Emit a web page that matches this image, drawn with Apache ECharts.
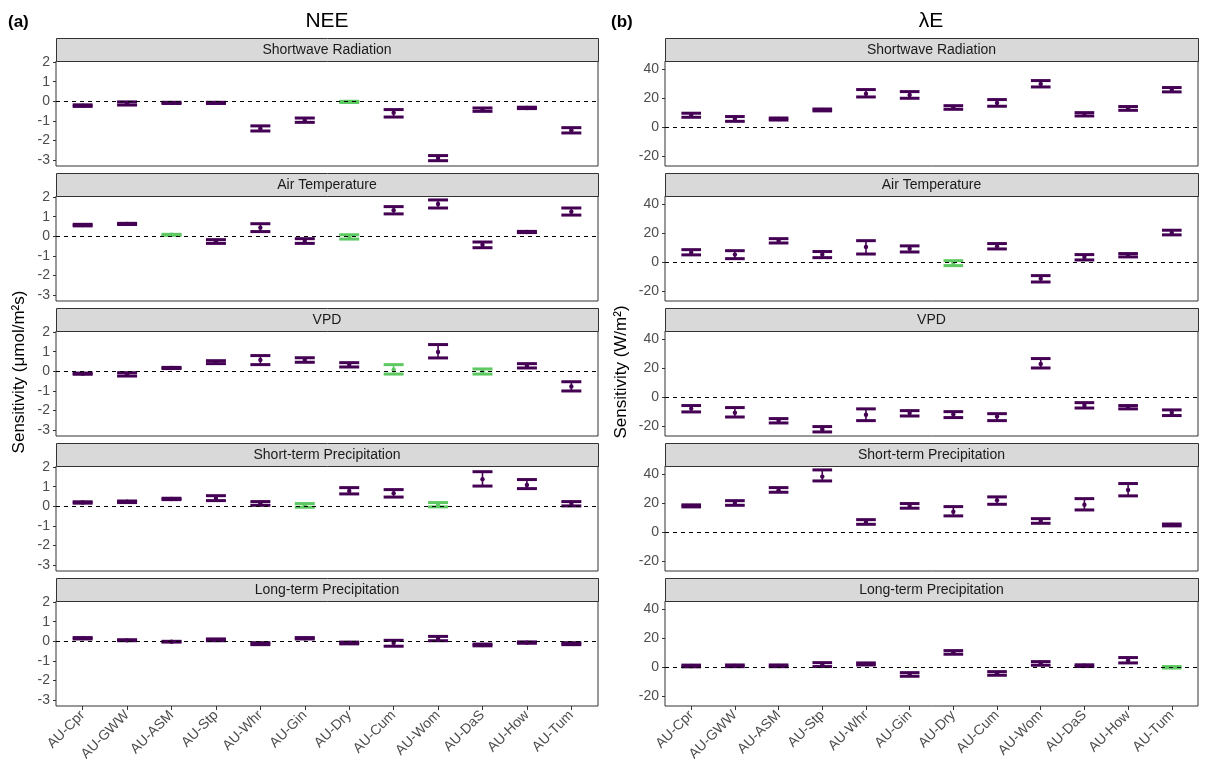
<!DOCTYPE html>
<html><head><meta charset="utf-8">
<script src="https://cdn.jsdelivr.net/npm/echarts@6/dist/echarts.min.js"></script>
<style>html,body{margin:0;padding:0;background:#fff}#c{width:1209px;height:781px}</style>
</head><body><div id="c"></div>
<script>
const sites = ['AU-Cpr','AU-GWW','AU-ASM','AU-Stp','AU-Whr','AU-Gin','AU-Dry','AU-Cum','AU-Wom','AU-DaS','AU-How','AU-Tum'];
const drivers = ['Shortwave Radiation','Air Temperature','VPD','Short-term Precipitation','Long-term Precipitation'];
const neeTicks = [-3,-2,-1,0,1,2];
const leTicks = [-20,0,20,40];

// [mean, lower, upper]
const neeSW = [[-0.22,-0.26,-0.18],[-0.11,-0.19,-0.03],[-0.08,-0.11,-0.05],[-0.08,-0.11,-0.05],[-1.38,-1.51,-1.25],[-0.96,-1.07,-0.85],[-0.03,-0.06,0.00],[-0.58,-0.80,-0.42],[-2.88,-3.02,-2.76],[-0.42,-0.51,-0.34],[-0.34,-0.37,-0.30],[-1.47,-1.61,-1.34]];
const neeTa = [[0.57,0.53,0.61],[0.63,0.60,0.66],[0.08,0.05,0.10],[-0.26,-0.36,-0.17],[0.44,0.24,0.64],[-0.24,-0.36,-0.12],[-0.03,-0.14,0.08],[1.33,1.14,1.51],[1.64,1.44,1.85],[-0.43,-0.58,-0.29],[0.22,0.19,0.25],[1.25,1.08,1.44]];
const neeVpd = [[-0.12,-0.15,-0.09],[-0.15,-0.24,-0.07],[0.17,0.14,0.20],[0.46,0.39,0.54],[0.58,0.34,0.80],[0.58,0.46,0.69],[0.33,0.22,0.44],[0.08,-0.14,0.34],[0.98,0.68,1.36],[-0.01,-0.14,0.12],[0.27,0.17,0.39],[-0.77,-1.00,-0.53]];
const neeStp = [[0.19,0.16,0.23],[0.23,0.19,0.27],[0.37,0.34,0.41],[0.42,0.29,0.54],[0.14,0.05,0.24],[0.05,-0.05,0.14],[0.78,0.63,0.95],[0.67,0.47,0.85],[0.07,-0.03,0.19],[1.38,1.03,1.76],[1.08,0.90,1.36],[0.12,0.02,0.24]];
const neeLtp = [[0.16,0.12,0.19],[0.05,0.03,0.08],[-0.02,-0.04,0.00],[0.07,0.03,0.12],[-0.12,-0.17,-0.07],[0.15,0.12,0.19],[-0.08,-0.13,-0.04],[-0.08,-0.25,0.05],[0.14,0.03,0.25],[-0.19,-0.23,-0.14],[-0.07,-0.10,-0.03],[-0.12,-0.17,-0.07]];

const leSW = [[8.3,6.9,9.7],[5.8,4.1,7.4],[5.7,5.0,6.4],[12.0,11.3,12.6],[23.1,20.9,26.0],[22.3,20.0,24.6],[13.6,12.4,14.9],[16.8,14.5,19.1],[29.9,27.8,32.2],[9.0,7.8,10.1],[13.0,11.7,14.3],[25.9,24.4,27.4]];
const leTa = [[6.7,5.1,8.7],[5.3,2.5,8.0],[14.9,13.3,16.3],[5.3,3.2,7.4],[10.6,5.7,14.9],[9.4,7.1,11.3],[-0.4,-2.3,1.1],[10.8,9.2,12.9],[-11.3,-13.6,-9.2],[3.7,1.6,5.3],[4.9,3.7,6.0],[20.3,18.9,22.1]];
const leVpd = [[-7.8,-10.1,-5.7],[-10.6,-13.6,-7.1],[-16.1,-17.7,-14.7],[-22.0,-23.9,-20.2],[-12.0,-16.1,-8.0],[-10.8,-12.9,-9.2],[-11.7,-14.0,-9.9],[-13.3,-16.1,-11.3],[23.0,20.2,26.7],[-5.5,-7.4,-3.7],[-6.8,-8.0,-5.7],[-10.5,-12.6,-8.7]];
const leStp = [[18.2,17.5,18.9],[20.2,18.6,21.8],[29.0,27.6,30.8],[38.4,35.4,43.0],[7.1,5.5,8.7],[18.2,16.6,19.8],[14.2,11.3,17.7],[22.1,19.3,24.4],[7.8,6.2,9.4],[19.0,15.4,23.2],[29.1,25.1,33.6],[5.1,4.4,5.7]];
const leLtp = [[0.9,0.3,1.5],[1.0,0.4,1.6],[1.0,0.4,1.6],[1.8,0.5,3.2],[2.3,1.6,3.0],[-4.8,-6.2,-3.7],[10.3,9.0,11.5],[-4.1,-5.5,-3.0],[2.6,1.4,3.9],[1.1,0.5,1.7],[4.8,3.0,6.7],[0.0,-0.5,0.5]];

// indices of sites drawn in green (non-significant) per driver panel
const neeGreen = [[6],[2,6],[7,9],[5,8],[]];
const leGreen = [[],[6],[],[],[11]];

const neePanels = [neeSW, neeTa, neeVpd, neeStp, neeLtp];
const lePanels = [leSW, leTa, leVpd, leStp, leLtp];

const PURPLE = '#440154', GREEN = '#5ec962';
const FONT = 'Liberation Sans, Arial, sans-serif';
const cols = [
  {left:56, width:542, ymin:-3.29, ymax:2.05, ticks:neeTicks, panels:neePanels, green:neeGreen},
  {left:665, width:533, ymin:-26.7, ymax:45.7, ticks:leTicks, panels:lePanels, green:leGreen}
];
const PTOP = 61, PH = 105, STEP = 135, SH = 23;

function renderItem(params, api){
  const x = api.value(0), m = api.value(1), lo = api.value(2), hi = api.value(3), g = api.value(4);
  const col = g ? GREEN : PURPLE;
  const pLo = api.coord([x, lo]), pHi = api.coord([x, hi]), pM = api.coord([x, m]);
  const half = api.size([0.225, 0])[0];
  return {type:'group', children:[
    {type:'line', shape:{x1:pLo[0], y1:pLo[1], x2:pHi[0], y2:pHi[1]}, style:{stroke:col, lineWidth:1.6}},
    {type:'line', shape:{x1:pLo[0]-half, y1:pLo[1], x2:pLo[0]+half, y2:pLo[1]}, style:{stroke:col, lineWidth:3}},
    {type:'line', shape:{x1:pHi[0]-half, y1:pHi[1], x2:pHi[0]+half, y2:pHi[1]}, style:{stroke:col, lineWidth:3}},
    {type:'circle', shape:{cx:pM[0], cy:pM[1], r:2.2}, style:{fill:col}}
  ]};
}

const grid = [], xAxis = [], yAxis = [], series = [], graphic = [];
const idx = sites.map((s,i)=>i);
cols.forEach((c, ci) => {
  for (let p = 0; p < 5; p++) {
    const gi = grid.length;
    const top = PTOP + STEP*p;
    grid.push({left:c.left, top:top, width:c.width, height:PH, show:true, borderColor:'#333333', borderWidth:1, backgroundColor:'#fff', containLabel:false});
    const bottom = p === 4;
    xAxis.push({type:'value', gridIndex:gi, min:-0.6, max:11.6, position:'bottom',
      axisLine:{show:false, onZero:false}, splitLine:{show:false},
      axisTick:{show:bottom, customValues:idx, length:4, lineStyle:{color:'#333'}},
      axisLabel:{show:bottom, customValues:idx, rotate:45, margin:7, color:'#4d4d4d', fontSize:14, fontFamily:FONT,
        formatter:v => sites[Math.round(v)]}
    });
    yAxis.push({type:'value', gridIndex:gi, min:c.ymin, max:c.ymax, position:'left',
      axisLine:{show:false, onZero:false}, splitLine:{show:false},
      axisTick:{show:true, customValues:c.ticks, length:3, lineStyle:{color:'#333'}},
      axisLabel:{customValues:c.ticks, margin:6, color:'#4d4d4d', fontSize:14, fontFamily:FONT}
    });
    const data = c.panels[p].map((d, i) => [i, d[0], d[1], d[2], c.green[p].includes(i) ? 1 : 0]);
    series.push({type:'custom', xAxisIndex:gi, yAxisIndex:gi, renderItem:renderItem, data:data, clip:false, silent:true,
      encode:{x:0, y:[1,2,3]}, z:3,
      markLine:{silent:true, symbol:'none', label:{show:false}, animation:false,
        lineStyle:{type:[4,4], color:'#000', width:1}, data:[{yAxis:0}]}
    });
    graphic.push({type:'rect', left:c.left, top:top-SH, shape:{width:c.width, height:SH},
      style:{fill:'#d9d9d9', stroke:'#333333', lineWidth:1}});
    graphic.push({type:'text', x:c.left + c.width/2, y:top-SH/2+1,
      style:{text:drivers[p], fill:'#1a1a1a', font:'14px ' + FONT, textAlign:'center', textVerticalAlign:'middle'}});
  }
});

graphic.push({type:'text', x:327, y:21, style:{text:'NEE', fill:'#000', font:'21px ' + FONT, textAlign:'center', textVerticalAlign:'middle'}});
graphic.push({type:'text', x:931, y:21, style:{text:'λE', fill:'#000', font:'21px ' + FONT, textAlign:'center', textVerticalAlign:'middle'}});
graphic.push({type:'text', x:8, y:22, style:{text:'(a)', fill:'#000', font:'bold 17px ' + FONT, textAlign:'left', textVerticalAlign:'middle'}});
graphic.push({type:'text', x:611, y:22, style:{text:'(b)', fill:'#000', font:'bold 17px ' + FONT, textAlign:'left', textVerticalAlign:'middle'}});
graphic.push({type:'text', x:19, y:372, rotation:Math.PI/2, style:{text:'Sensitivity (μmol/m²s)', fill:'#000', font:'17px ' + FONT, textAlign:'center', textVerticalAlign:'middle'}});
graphic.push({type:'text', x:621, y:372, rotation:Math.PI/2, style:{text:'Sensitivity (W/m²)', fill:'#000', font:'17px ' + FONT, textAlign:'center', textVerticalAlign:'middle'}});

const chart = echarts.init(document.getElementById('c'));
chart.setOption({animation:false, backgroundColor:'#fff', grid, xAxis, yAxis, series, graphic});
</script></body></html>
